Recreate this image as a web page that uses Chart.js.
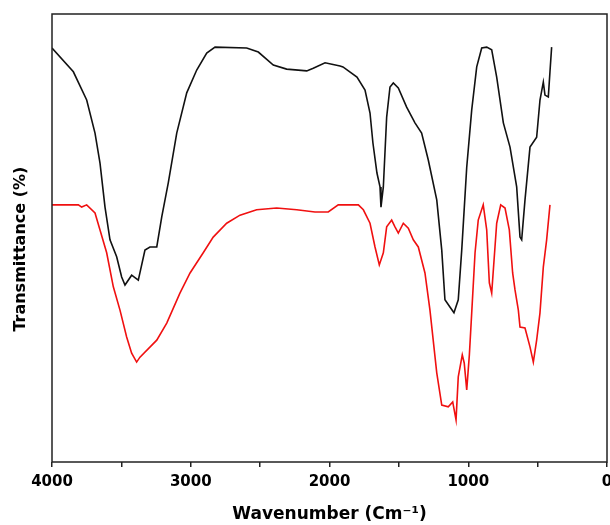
<!DOCTYPE html>
<html>
<head>
<meta charset="utf-8">
<script src="https://cdn.jsdelivr.net/npm/chart.js@4.4.1/dist/chart.umd.min.js"></script>
<style>
  html, body { margin: 0; padding: 0; background: #fff; }
  #chart { display: block; }
</style>
</head>
<body>
<canvas id="chart" width="610" height="525"></canvas>
<script>
// 黒線（上のスペクトル）
const blackWavenumber = [4000, 3846, 3750, 3690, 3654, 3618, 3582, 3534, 3498, 3474, 3426, 3378, 3330, 3294, 3245, 3209, 3162, 3101, 3029, 2957, 2885, 2825, 2597, 2513, 2405, 2309, 2164, 2117, 2032, 1924, 1903, 1802, 1744, 1708, 1687, 1658, 1636, 1629, 1612, 1588, 1564, 1540, 1504, 1444, 1384, 1336, 1288, 1227, 1191, 1168, 1132, 1103, 1072, 1047, 1011, 975, 939, 903, 867, 831, 795, 747, 699, 651, 627, 615, 591, 555, 507, 483, 459, 447, 423, 411, 399];
const blackTransmittance = [92.4, 87.1, 80.8, 73.4, 66.7, 56.9, 49.6, 45.8, 41.3, 39.5, 41.7, 40.6, 47.3, 48.0, 48.0, 54.7, 62.3, 73.4, 82.4, 87.5, 91.3, 92.6, 92.4, 91.5, 88.6, 87.7, 87.3, 87.9, 89.1, 88.4, 88.2, 85.9, 83.0, 77.9, 71.2, 64.5, 61.4, 56.9, 61.4, 77.0, 83.7, 84.6, 83.5, 79.2, 75.7, 73.4, 67.4, 58.5, 47.3, 36.2, 34.6, 33.3, 36.2, 47.3, 65.8, 78.6, 88.2, 92.4, 92.6, 92.0, 85.9, 75.7, 70.3, 61.4, 50.2, 49.6, 58.5, 70.3, 72.5, 80.8, 84.8, 81.9, 81.5, 87.1, 92.6];

// 赤線（下のスペクトル）
const redWavenumber = [4000, 3810, 3786, 3750, 3690, 3654, 3606, 3558, 3510, 3462, 3426, 3390, 3366, 3245, 3173, 3078, 3005, 2910, 2838, 2741, 2645, 2525, 2381, 2236, 2105, 2009, 1937, 1792, 1756, 1708, 1672, 1641, 1612, 1588, 1552, 1528, 1504, 1468, 1432, 1396, 1360, 1312, 1276, 1227, 1191, 1144, 1112, 1088, 1072, 1043, 1029, 1011, 992, 975, 951, 928, 892, 867, 848, 831, 814, 795, 766, 735, 704, 680, 663, 639, 627, 591, 555, 531, 507, 483, 459, 435, 411];
const redTransmittance = [57.4, 57.4, 56.9, 57.4, 55.6, 51.8, 46.7, 39.1, 33.9, 27.9, 24.3, 22.3, 23.4, 27.2, 31.0, 37.7, 42.2, 46.7, 50.2, 53.3, 55.1, 56.3, 56.7, 56.3, 55.8, 55.8, 57.4, 57.4, 56.3, 53.3, 48.0, 44.0, 46.7, 52.5, 54.0, 52.5, 51.1, 53.3, 52.2, 49.6, 48.0, 42.2, 33.9, 19.9, 12.7, 12.3, 13.4, 9.4, 19.0, 23.9, 22.1, 16.1, 23.9, 33.3, 46.7, 54.0, 57.4, 51.8, 40.0, 37.7, 45.1, 53.3, 57.4, 56.7, 51.8, 42.2, 38.4, 33.9, 30.1, 29.9, 25.7, 22.3, 27.2, 33.3, 43.5, 49.6, 57.4];

const xTicks = [4000, 3000, 2000, 1000, 0];

const toPoints = (xs, ys) => xs.map((x, i) => ({ x: x, y: ys[i] }));

// 枠線
const framePlugin = {
  id: 'frame',
  afterDraw(chart) {
    const { ctx, chartArea } = chart;
    ctx.save();
    ctx.strokeStyle = '#222';
    ctx.lineWidth = 1.5;
    ctx.strokeRect(chartArea.left, chartArea.top, chartArea.right - chartArea.left, chartArea.bottom - chartArea.top);
    ctx.restore();
  }
};

const ctx = document.getElementById('chart').getContext('2d');
new Chart(ctx, {
  type: 'line',
  data: {
    datasets: [
      {
        data: toPoints(blackWavenumber, blackTransmittance),
        borderColor: '#111',
        borderWidth: 1.6,
        pointRadius: 0,
        tension: 0,
        fill: false
      },
      {
        data: toPoints(redWavenumber, redTransmittance),
        borderColor: '#f01010',
        borderWidth: 1.6,
        pointRadius: 0,
        tension: 0,
        fill: false
      }
    ]
  },
  options: {
    responsive: false,
    animation: false,
    layout: { padding: { top: 14, right: 3, left: 0, bottom: 0 } },
    plugins: {
      legend: { display: false },
      tooltip: { enabled: false }
    },
    scales: {
      x: {
        type: 'linear',
        reverse: true,
        min: 0,
        max: 4000,
        border: { display: false },
        grid: {
          display: true,
          drawOnChartArea: false,
          drawTicks: true,
          tickLength: 5,
          color: '#222',
          lineWidth: 1.5
        },
        ticks: {
          stepSize: 500,
          autoSkip: false,
          maxRotation: 0,
          padding: 6,
          color: '#000',
          font: { family: 'DejaVu Sans', size: 15, weight: 'bold' },
          callback: (v) => xTicks.includes(v) ? String(v) : ''
        },
        title: {
          display: true,
          text: 'Wavenumber (Cm⁻¹)',
          color: '#000',
          font: { family: 'DejaVu Sans', size: 17, weight: 'bold', lineHeight: 1 },
          padding: { top: 0, bottom: 1.5 }
        },
        afterFit: (scale) => {
          scale.height = 63;
          scale.paddingLeft = 0;
          scale.paddingRight = 0;
        }
      },
      y: {
        min: 0,
        max: 100,
        border: { display: false },
        grid: { display: false },
        ticks: { display: false },
        title: {
          display: true,
          text: 'Transmittance (%)    ',
          color: '#000',
          font: { family: 'DejaVu Sans', size: 16, weight: 'bold', lineHeight: 1 },
          padding: { top: 13, bottom: 0 }
        },
        afterFit: (scale) => { scale.width = 52; }
      }
    }
  },
  plugins: [framePlugin]
});
</script>
</body>
</html>
